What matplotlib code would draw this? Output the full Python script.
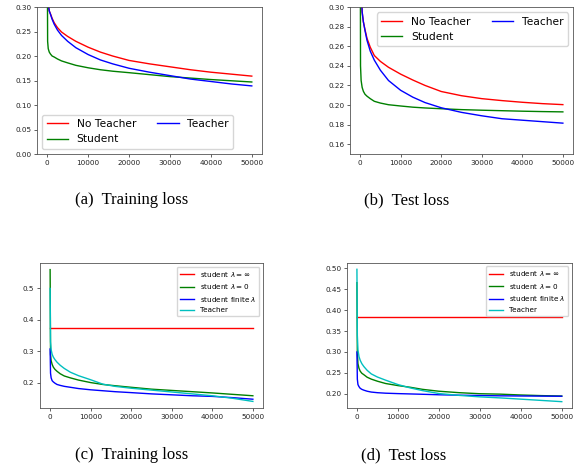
import matplotlib
matplotlib.use('Agg')
import matplotlib.pyplot as plt

# training steps shared by the curves
steps = [0, 100, 250, 500, 800, 1200, 1700, 2500, 3500, 5000, 7000, 10000,
         13000, 16000, 20000, 25000, 30000, 35000, 40000, 45000, 50000]
flat_steps = [0, 50000]

# (a) training loss
a_no_teacher = [0.55, 0.40, 0.305, 0.292, 0.286, 0.277, 0.268, 0.258, 0.249, 0.240, 0.230,
                0.218, 0.208, 0.200, 0.191, 0.184, 0.178, 0.172, 0.167, 0.163, 0.159]
a_teacher = [0.55, 0.40, 0.305, 0.292, 0.285, 0.275, 0.265, 0.253, 0.242, 0.230, 0.217,
             0.203, 0.192, 0.184, 0.175, 0.167, 0.160, 0.153, 0.148, 0.143, 0.139]
a_student = [0.45, 0.230, 0.215, 0.208, 0.204, 0.200, 0.198, 0.194, 0.190, 0.186, 0.181,
             0.176, 0.172, 0.169, 0.166, 0.162, 0.158, 0.155, 0.152, 0.1495, 0.147]

# (b) test loss
b_no_teacher = [0.50, 0.40, 0.32, 0.295, 0.285, 0.277, 0.268, 0.259, 0.2505, 0.2445, 0.2385,
                0.2315, 0.2255, 0.2200, 0.2138, 0.2095, 0.2065, 0.2045, 0.2028, 0.2014, 0.2004]
b_teacher = [0.50, 0.40, 0.32, 0.295, 0.285, 0.276, 0.266, 0.255, 0.2458, 0.2355, 0.2250,
             0.2150, 0.2080, 0.2025, 0.1972, 0.1925, 0.189, 0.186, 0.1845, 0.183, 0.1815]
b_student = [0.45, 0.240, 0.225, 0.218, 0.214, 0.211, 0.209, 0.2065, 0.2038, 0.202, 0.2003,
             0.199, 0.1978, 0.197, 0.1962, 0.1953, 0.1947, 0.1942, 0.1937, 0.1933, 0.193]

# (c) training loss, lambda study
c_inf = [0.375, 0.375]
c_zero = [0.56, 0.29, 0.27, 0.258, 0.249, 0.242, 0.236, 0.228, 0.221, 0.215, 0.208,
          0.200, 0.194, 0.190, 0.185, 0.179, 0.175, 0.171, 0.167, 0.1625, 0.158]
c_finite = [0.307, 0.23, 0.215, 0.206, 0.202, 0.198, 0.194, 0.191, 0.188, 0.185, 0.181,
            0.177, 0.174, 0.171, 0.168, 0.164, 0.161, 0.158, 0.156, 0.152, 0.147]
c_teacher = [0.50, 0.33, 0.305, 0.29, 0.281, 0.273, 0.265, 0.255, 0.245, 0.233, 0.222,
             0.209, 0.195, 0.188, 0.182, 0.176, 0.170, 0.164, 0.158, 0.150, 0.140]

# (d) test loss, lambda study
d_inf = [0.383, 0.383]
d_zero = [0.466, 0.30, 0.272, 0.261, 0.254, 0.249, 0.2455, 0.2395, 0.235, 0.230, 0.2245,
          0.2195, 0.2155, 0.2105, 0.206, 0.2025, 0.200, 0.199, 0.197, 0.1955, 0.1945]
d_finite = [0.30, 0.235, 0.222, 0.217, 0.213, 0.2105, 0.2085, 0.206, 0.204, 0.2025, 0.2013,
            0.2003, 0.1995, 0.1987, 0.1975, 0.1965, 0.1957, 0.195, 0.1946, 0.1943, 0.194]
d_teacher = [0.498, 0.34, 0.305, 0.289, 0.28, 0.272, 0.265, 0.256, 0.2475, 0.240, 0.2325,
             0.222, 0.214, 0.2075, 0.2005, 0.196, 0.1925, 0.190, 0.187, 0.184, 0.181]

captions = ['(a)  Training loss', '(b)  Test loss', '(c)  Training loss', '(d)  Test loss']

LW = 1.0

fig = plt.figure(figsize=(5.88, 4.68), dpi=100)
ax_a = fig.add_axes([0.0629, 0.6709, 0.3827, 0.3141])
ax_b = fig.add_axes([0.5952, 0.6709, 0.3793, 0.3141])
ax_c = fig.add_axes([0.0680, 0.1282, 0.3793, 0.3098])
ax_d = fig.add_axes([0.5896, 0.1276, 0.3832, 0.3111])

for ax in [ax_a, ax_b, ax_c, ax_d]:
    ax.tick_params(labelsize=5.2, length=2.5, width=0.5, pad=1.5, colors='#222222')
    for s in ax.spines.values():
        s.set_linewidth(0.6)
        s.set_color('#555555')

# top row
ax_a.plot(steps, a_no_teacher, color='r', lw=LW, label='No Teacher')
ax_a.plot(steps, a_student, color='g', lw=LW, label='Student')
ax_a.plot(steps, a_teacher, color='b', lw=LW, label='Teacher')
ax_a.set_ylim(0.0, 0.30)
ax_a.set_xticks([0, 10000, 20000, 30000, 40000, 50000])
ax_a.legend(loc='lower left', ncol=2, fontsize=7.7)

ax_b.plot(steps, b_no_teacher, color='r', lw=LW, label='No Teacher')
ax_b.plot(steps, b_student, color='g', lw=LW, label='Student')
ax_b.plot(steps, b_teacher, color='b', lw=LW, label='Teacher')
ax_b.set_ylim(0.15, 0.30)
ax_b.set_xticks([0, 10000, 20000, 30000, 40000, 50000])
ax_b.legend(loc='upper right', ncol=2, fontsize=7.7)

# bottom row
ax_c.plot(flat_steps, c_inf, color='r', lw=LW, label=r'student $\lambda=\infty$')
ax_c.plot(steps, c_zero, color='g', lw=LW, label=r'student $\lambda=0$')
ax_c.plot(steps, c_finite, color='b', lw=LW, label=r'student finite $\lambda$')
ax_c.plot(steps, c_teacher, color='c', lw=LW, label='Teacher')
ax_c.set_xticks([0, 10000, 20000, 30000, 40000, 50000])
ax_c.legend(loc='upper right', fontsize=5.2)

ax_d.plot(flat_steps, d_inf, color='r', lw=LW, label=r'student $\lambda=\infty$')
ax_d.plot(steps, d_zero, color='g', lw=LW, label=r'student $\lambda=0$')
ax_d.plot(steps, d_finite, color='b', lw=LW, label=r'student finite $\lambda$')
ax_d.plot(steps, d_teacher, color='c', lw=LW, label='Teacher')
ax_d.set_xticks([0, 10000, 20000, 30000, 40000, 50000])
ax_d.legend(loc='upper right', fontsize=5.2)

# sub-captions
fig.text(132 / 588, 1 - 200 / 468, captions[0], ha='center', va='center',
         family='Liberation Serif', fontsize=12)
fig.text(407 / 588, 1 - 200 / 468, captions[1], ha='center', va='center',
         family='Liberation Serif', fontsize=12)
fig.text(132 / 588, 1 - 455 / 468, captions[2], ha='center', va='center',
         family='Liberation Serif', fontsize=12)
fig.text(404 / 588, 1 - 455 / 468, captions[3], ha='center', va='center',
         family='Liberation Serif', fontsize=12)

fig.savefig('out.png', dpi=100)
